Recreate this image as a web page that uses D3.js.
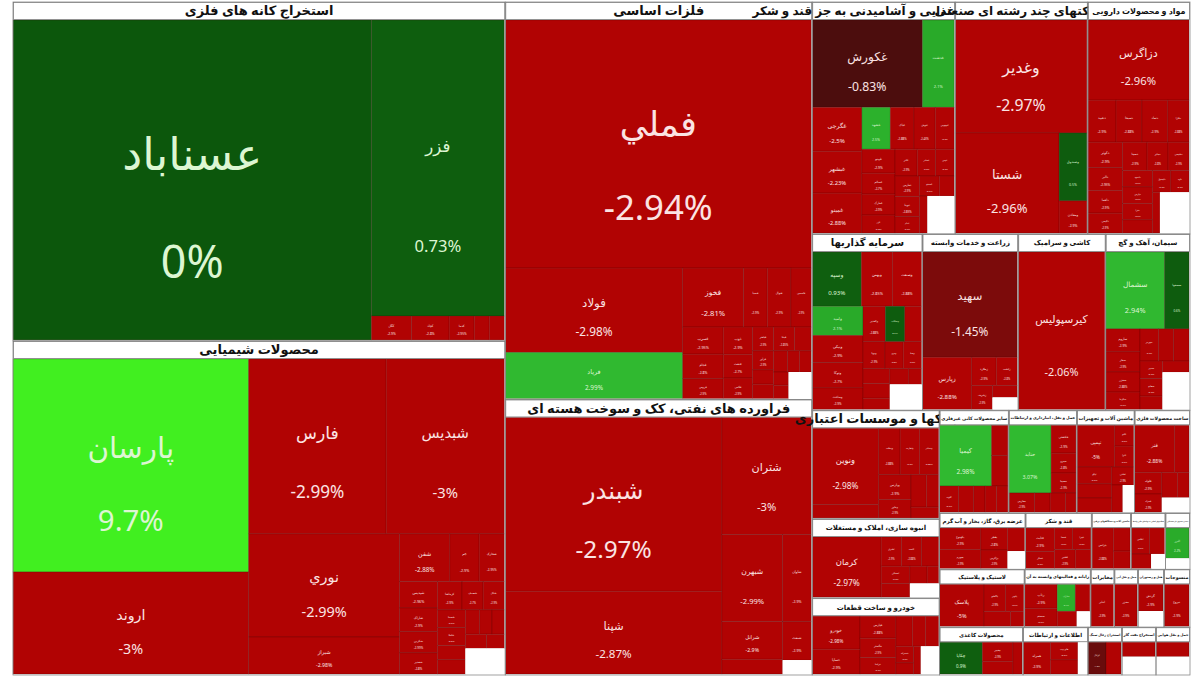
<!DOCTYPE html>
<html lang="fa">
<head>
<meta charset="UTF-8">
<script src="https://d3js.org/d3.v7.min.js"></script>
<style>
  body { margin: 0; background: #fff; }
  svg text { font-family: "Noto Sans", "DejaVu Sans", sans-serif; }
</style>
</head>
<body>
<div id="chart"></div>
<script>
// each stock: [ticker, % change, weight (market value)]
// a blank name means an empty corner left by the original map
var oreStocks = [["عسناباد", 0, 1149], ["فزر", 0.73, 394],
  ["کگل", -2.9, 9.6], ["کچاد", -2.8, 9], ["کدما", -2.95, 6], ["کنور", -2.5, 3.6], ["کروی", -2.7, 3.6]];

var chemStocks = [["پارسان", 9.7, 503], ["اروند", -3, 241], ["فارس", -2.99, 241], ["شبدیس", -3, 207],
  ["نوري", -2.99, 156], ["شیراز", -2.98, 56],
  ["شفن", -2.88, 24], ["جم", -2.9, 14], ["شخارک", -2.95, 12], ["شپدیس", -2.96, 10], ["شاراک", -2.9, 9],
  ["شکربن", -2.99, 8], ["شغدیر", -2.8, 8], ["کرماشا", -2.9, 7], ["شصدف", -2.7, 6], ["شگل", -2.9, 6],
  ["شسینا", -2.6, 5], ["شاملا", -2.8, 5], ["شپاکسا", -2.9, 4], ["شفارس", -2.85, 4], ["شلعاب", -2.7, 3.5],
  ["شکلر", -2.9, 3], ["شرنگی", -2.9, 3], ["شجم", -2.8, 3], ["شیران", -2.9, 2.5], ["", null, 10]];

var metalStocks = [["فملي", -2.94, 761], ["فولاد", -2.98, 150], ["فرياد", 2.99, 82],
  ["فخوز", -2.81, 36], ["فسپا", -2.9, 14], ["فنوال", -2.9, 14], ["فاسمین", -2.9, 12], ["فسرب", -2.95, 11],
  ["فجام", -2.8, 10], ["فروس", -2.9, 8], ["ذوب", -2.9, 8], ["فنفت", -2.7, 7], ["فلامی", -2.9, 6],
  ["فباهنر", -2.9, 5], ["فپنتا", -2.85, 5], ["فگستر", -2.9, 4], ["فرآور", -2.9, 4], ["فافزا", -2.9, 3],
  ["فخاس", -2.8, 3], ["فکاوه", -2.9, 3], ["فسازان", -2.9, 2.5], ["فغدیر", -2.9, 2.5], ["فاذر", -2.9, 2],
  ["فجر", -2.9, 2], ["", null, 6]];

var oilStocks = [["شبندر", -2.97, 378], ["شپنا", -2.87, 180], ["شتران", -3, 105], ["شبهرن", -2.99, 53],
  ["شرانل", -2.9, 23], ["شسپا", -2.95, 9], ["شاوان", -2.9, 25], ["شنفت", -2.9, 11], ["", null, 4]];

var foodStocks = [["غکورش", -0.83, 97], ["غدشت", 2.1, 28],
  ["غگرجی", -2.5, 22], ["غبشهر", -2.23, 21], ["غمینو", -2.88, 20], ["غشهد", 2.5, 12], ["غپاک", -2.88, 10],
  ["غنوش", -2.43, 9], ["غبهنوش", -2.9, 8], ["غپینو", -2.9, 8], ["غسالم", -2.7, 7], ["غمارگ", -2.9, 7],
  ["غزر", -2.8, 6], ["غاذر", -2.9, 6], ["غشاذر", -2.6, 5], ["غچین", -2.9, 5], ["غفارس", -2.9, 5],
  ["غویتا", -2.85, 5], ["غدام", -2.9, 4], ["غصینو", -2.9, 4], ["غالبر", -2.8, 3], ["غشان", -2.9, 3], ["", null, 10]];

var multiStocks = [["وغدير", -2.97, 150], ["شستا", -2.96, 105], ["وصندوق", 0.5, 19], ["ومعادن", -2.9, 9]];

var pharmaStocks = [["دزاگرس", -2.96, 82],
  ["دعبید", -2.9, 12], ["دسبحا", -2.88, 11], ["دتماد", -2.9, 11], ["دفارا", -2.88, 9], ["دکوثر", -2.9, 9],
  ["دالبر", -2.95, 8], ["دلقما", -2.9, 8], ["دکیمی", -2.9, 7], ["دسینا", -2.9, 7], ["دجابر", -2.8, 6],
  ["دشیمی", -2.9, 6], ["داسوه", -2.9, 5], ["دپارس", -2.9, 5], ["دفرا", -2.9, 5], ["دتولید", -2.7, 4],
  ["دکپسول", -2.9, 4], ["داوه", -2.9, 4], ["ددام", -2.9, 3], ["", null, 12]];

var investStocks = [["وسپه", 0.93, 27], ["وبهمن", -2.85, 17], ["وصنعت", -2.88, 16], ["وامید", 2.1, 15],
  ["ونیکی", -2.9, 14], ["وتوکا", -2.7, 13], ["وساخت", -2.9, 11], ["وکغدیر", -2.88, 8], ["وسکاب", 0.6, 7],
  ["وبوعلی", -2.9, 6], ["وپویا", -2.9, 6], ["ونیرو", -2.8, 5], ["وصنا", -2.9, 5], ["ولساپا", -2.9, 4],
  ["وسنا", -2.9, 4], ["واتی", -2.7, 3], ["وسبحان", -2.9, 3], ["وآتوس", -2.9, 2], ["", null, 8]];

var farmStocks = [["سهید", -1.45, 101], ["زپارس", -2.88, 26], ["زملارد", -2.9, 7], ["زکشت", -2.8, 6],
  ["زشریف", -2.9, 5], ["زماهان", -2.7, 3], ["", null, 3]];

var tileStocks = [["کیرسپولیس", -2.06, 138]];

var cementStocks = [["سشمال", 2.94, 46], ["سصفها", 0.6, 19],
  ["ساروم", -2.9, 8], ["سفار", -2.9, 7], ["سخزر", -2.88, 7], ["سکرما", -2.9, 6], ["سهرمز", -2.9, 6],
  ["سبهان", -2.8, 5], ["سغرب", -2.9, 5], ["سدور", -2.9, 4], ["سفانو", -2.9, 4], ["ساوه", -2.7, 3],
  ["سیلام", -2.9, 3], ["", null, 10]];

var bankStocks = [["ونوين", -2.98, 51], ["وپست", -2.9, 9],
  ["وبملت", -2.88, 10], ["وتجارت", -2.9, 9], ["وبصادر", -2.88, 9], ["وپارس", -2.9, 8], ["وخاور", -2.9, 6],
  ["وسینا", -2.9, 5], ["ودی", -2.8, 4], ["وکار", -2.9, 3]];

var estateStocks = [["کرمان", -2.97, 42], ["ثشرق", -2.9, 6], ["ثاخت", -2.88, 6], ["ثامان", -2.9, 5],
  ["ثمسکن", -2.9, 5], ["ثنوسا", -2.8, 4], ["ثباغ", -2.9, 3], ["ثفارس", -2.9, 2], ["", null, 4]];

var autoStocks = [["خودرو", -2.98, 16], ["خساپا", -2.9, 12], ["خپارس", -2.88, 8], ["خگستر", -2.9, 7],
  ["خزامیا", -2.9, 6], ["خاور", -2.9, 5], ["ختور", -2.8, 4], ["خکمک", -2.9, 4], ["خمحرکه", -2.9, 3],
  ["خریخت", -2.9, 2], ["خشرق", -2.9, 2], ["", null, 5]];

var mineralStocks = [["کیمیا", 2.98, 32], ["کساپا", -2.9, 5], ["کفپارس", -2.9, 5], ["کلوند", -2.9, 5],
  ["کاوه", -2.8, 4], ["کگاز", -2.9, 3], ["کسرا", -2.9, 3], ["کخاک", -2.9, 3]];
var transportStocks = [["حتاید", 3.07, 29], ["حکشتی", -2.9, 7], ["حپترو", -2.8, 5], ["حسینا", -2.9, 5],
  ["حفارس", -2.9, 5], ["حریل", -2.9, 3], ["حآسا", -2.7, 3], ["حسیر", -2.9, 2]];
var machineStocks = [["تپمپی", -5, 16], ["تکنو", -2.9, 4], ["تایرا", -2.9, 4], ["تپکو", -2.9, 6],
  ["تمحرکه", -2.9, 5], ["ماشین", -2.8, 5], ["تشتی", -2.9, 4], ["تبرک", -2.9, 3], ["", null, 3]];
var metalProdStocks = [["فنر", -2.88, 19], ["فجهان", -2.9, 7], ["فلوله", -2.9, 6], ["فمراد", -2.9, 5],
  ["فتوسا", -2.8, 4], ["فولای", -2.9, 3], ["", null, 4]];
var powerStocks = [["بکهنوج", -2.9, 9], ["بجهرم", -2.9, 8], ["بفجر", -2.8, 6], ["بزاگرس", -2.9, 5],
  ["بپیوند", -2.9, 4], ["", null, 3]];
var sugarStocks = [["قثابت", -2.9, 7], ["قشکر", -2.9, 5], ["قنیشا", -2.9, 4], ["قپیرا", -2.8, 4],
  ["قشیر", -2.9, 4], ["قهکمت", -2.9, 3]];
var electricStocks = [["بترانس", -2.88, 9], ["بالبر", -2.9, 4], ["بموتو", -2.9, 3]];
var financeStocks = [["اطلس", -2.9, 5], ["امین", -2.9, 4], ["آگاه", -2.8, 3], ["", null, 2]];
var insureStocks = [["البرز", 2.2, 7.5], ["", null, 2.5]];
var rubberStocks = [["پلاسک", -5, 19], ["پاکشو", -2.9, 6], ["پکویر", -2.9, 5], ["پدرخش", -2.9, 4], ["پسهند", -2.8, 2]];
var computerStocks = [["رتاپ", -2.9, 8], ["سیستم", -2.9, 6], ["مداران", 2.4, 5], ["رافزا", -2.9, 4],
  ["فناوا", -2.9, 3], ["", null, 2]];
var telecomStocks = [["اخابر", -2.9, 10]];
var shipStocks = [["حخزر", -2.9, 10]];
var hotelStocks = [["گردش", -2.9, 7], ["", null, 4]];
var textileStocks = [["نبروج", -2.9, 11]];
var paperStocks = [["چکاپا", 0.9, 14], ["چفیبر", -2.9, 6], ["چکارن", -2.9, 4], ["چدن", -2.8, 3]];
var infoStocks = [["همراه", -2.9, 9], ["هاي وب", -2.9, 5], ["آسیاتک", -2.9, 4], ["", null, 3]];
var coalStocks = [["کزغال", -1.2, 6], ["کطبس", -2.9, 5]];
var gasStocks = [["نفت", -2.9, 5], ["", null, 6]];
var airStocks = [["هما", -2.9, 5], ["", null, 6]];

// ---- layout helpers (direction of each split) ----
function leaf(d) { return {name: d[0], pct: d[1], v: d[2]}; }
function H() { return {dir: "h", children: [].slice.call(arguments)}; }
function V() { return {dir: "v", children: [].slice.call(arguments)}; }
function Ha(a) { return {dir: "h", children: a}; }
function SQ(a) { return {dir: "sq", children: a}; }
function sector(title, stocks, spec, hh, fs) {
  var n = spec(stocks.map(leaf));
  n.title = title; n.hh = hh || 18; n.fs = fs || 13;
  return n;
}
function small(title, stocks, spec) { return sector(title, stocks, spec, 15, 5.5); }

var rootData = H(
  V(
    sector("استخراج کانه های فلزی", oreStocks, s => H(s[0], V(s[1], Ha(s.slice(2))))),
    sector("محصولات شیمیایی", chemStocks, s => H(V(s[0], s[1]), V(H(s[2], s[3]), H(V(s[4], s[5]), SQ(s.slice(6))))))
  ),
  V(
    sector("فلزات اساسی", metalStocks, s => V(s[0], H(V(s[1], s[2]), SQ(s.slice(3))))),
    sector("فراورده های نفتی، کک و سوخت هسته ای", oilStocks, s => H(V(s[0], s[1]), V(s[2], H(V(s[3], s[4], s[5]), V(s[6], s[7], s[8])))))
  ),
  V(
    H(
      sector("محصولات غذایی و آشامیدنی به جز قند و شکر", foodStocks, s => V(H(s[0], s[1]), SQ(s.slice(2))), 18, 12),
      sector("شرکتهای چند رشته ای صنعتی", multiStocks, s => V(s[0], H(s[1], V(s[2], s[3]))), 18, 12),
      sector("مواد و محصولات دارویی", pharmaStocks, s => V(s[0], SQ(s.slice(1))), 18, 8)
    ),
    H(
      sector("سرمایه گذاریها", investStocks, s => SQ(s), 18, 10),
      sector("زراعت و خدمات وابسته", farmStocks, s => V(s[0], H(s[1], SQ(s.slice(2)))), 18, 7),
      sector("کاشی و سرامیک", tileStocks, s => V(s[0]), 18, 7),
      sector("سیمان، آهک و گچ", cementStocks, s => V(H(s[0], s[1]), SQ(s.slice(2))), 18, 7)
    ),
    H(
      V(
        sector("بانکها و موسسات اعتباری", bankStocks, s => H(V(s[0], s[1]), SQ(s.slice(2))), 18, 13),
        sector("انبوه سازی، املاک و مستغلات", estateStocks, s => H(s[0], SQ(s.slice(1))), 18, 7),
        sector("خودرو و ساخت قطعات", autoStocks, s => SQ(s), 18, 7)
      ),
      V(
        H(
          small("سایر محصولات کانی غیرفلزی", mineralStocks, s => V(H(s[0], V(s[1], s[2])), Ha(s.slice(3)))),
          small("حمل و نقل، انبارداری و ارتباطات", transportStocks, s => V(H(s[0], V(s[1], s[2], s[3])), Ha(s.slice(4)))),
          small("ماشین آلات و تجهیزات", machineStocks, s => V(H(s[0], V(s[1], s[2])), SQ(s.slice(3)))),
          small("ساخت محصولات فلزی", metalProdStocks, s => V(H(s[0], s[1]), SQ(s.slice(2))))
        ),
        H(
          small("عرضه برق، گاز، بخار و آب گرم", powerStocks, s => SQ(s)),
          small("قند و شکر", sugarStocks, s => SQ(s)),
          small("ماشین آلات و دستگاههای برقی", electricStocks, s => H(s[0], V(s[1], s[2]))),
          small("فعالیتهای کمکی به نهادهای مالی واسط", financeStocks, s => SQ(s)),
          small("بیمه و صندوق بازنشستگی", insureStocks, s => V(s[0], s[1]))
        ),
        H(
          small("لاستیک و پلاستیک", rubberStocks, s => H(s[0], SQ(s.slice(1)))),
          small("رایانه و فعالیتهای وابسته به آن", computerStocks, s => SQ(s)),
          small("مخابرات", telecomStocks, s => V(s[0])),
          small("حمل و نقل آبی", shipStocks, s => V(s[0])),
          small("هتل و رستوران", hotelStocks, s => V(s[0], s[1])),
          small("منسوجات", textileStocks, s => V(s[0]))
        ),
        H(
          small("محصولات کاغذی", paperStocks, s => H(s[0], SQ(s.slice(1)))),
          small("اطلاعات و ارتباطات", infoStocks, s => SQ(s)),
          small("استخراج زغال سنگ", coalStocks, s => H(s[0], s[1])),
          small("استخراج نفت گاز", gasStocks, s => V(s[0], s[1])),
          small("حمل و نقل هوایی", airStocks, s => V(s[0], s[1]))
        )
      )
    )
  )
);

var width = 1177, height = 673;

var svg = d3.select("#chart").append("svg")
    .attr("width", 1200)
    .attr("height", 678);
var g = svg.append("g").attr("transform", "translate(13,2)");

var root = d3.hierarchy(rootData).sum(d => d.children ? 0 : d.v);

// height taken by headers inside each node (not proportional to value)
root.eachAfter(function(n) {
  var f = n.data.title ? n.data.hh : 0;
  if (n.children) {
    if (n.data.dir === "v") f += d3.sum(n.children, c => c.fh);
    else if (n.data.dir === "h") f += d3.max(n.children, c => c.fh);
  }
  n.fh = f;
});

function tile(node, x0, y0, x1, y1) {
  var kids = node.children, dir = node.data.dir;
  var tot = d3.sum(kids, c => c.value);
  if (dir === "sq") {
    d3.treemapSquarify({children: kids, value: tot}, x0, y0, x1, y1);
  } else if (dir === "v") {
    var free = (y1 - y0) - d3.sum(kids, c => c.fh), y = y0;
    kids.forEach(function(c) {
      c.x0 = x0; c.x1 = x1; c.y0 = y;
      y += c.fh + free * c.value / tot; c.y1 = y;
    });
  } else {
    var w = kids.map(c => c.value / Math.max(1, (y1 - y0) - c.fh)), tw = d3.sum(w), x = x0;
    kids.forEach(function(c, i) {
      c.y0 = y0; c.y1 = y1; c.x0 = x;
      x += (x1 - x0) * w[i] / tw; c.x1 = x;
    });
  }
}

d3.treemap()
  .size([width, height])
  .tile(tile)
  .paddingTop(n => n.data.title ? n.data.hh : 0)
  .paddingRight(n => n.data.title ? 1 : 0)
  .paddingBottom(n => n.data.title ? 1 : 0)
  (root);

var color = d3.scaleLinear()
  .domain([-2, -1.45, -0.8, 0, 1, 2, 3, 9.7])
  .range(["#b10303", "#7c0b0b", "#4a0d0d", "#0c570c", "#0f600f", "#28a828", "#30b930", "#41ef20"])
  .clamp(true);

// cells
var cell = g.selectAll("g.cell")
  .data(root.leaves())
  .enter().append("g")
    .attr("class", "cell")
    .attr("transform", d => "translate(" + d.x0 + "," + d.y0 + ")");

cell.append("rect")
  .attr("width", d => Math.max(0, d.x1 - d.x0))
  .attr("height", d => Math.max(0, d.y1 - d.y0))
  .style("fill", d => d.data.name ? color(d.data.pct) : "#fff")
  .style("stroke", d => d.data.name ? "rgba(60,0,0,0.3)" : "none")
  .style("stroke-width", 0.7);

cell.filter(d => d.data.name).each(function(d) {
  var w = d.x1 - d.x0, h = d.y1 - d.y0;
  var fs = Math.min(0.14 * h, 0.125 * w);
  if (fs < 2.2) return;
  var tc = d.data.pct < 0 ? "#fbe3e3" : "#ddf6d2";
  var sel = d3.select(this);
  sel.append("text")
    .attr("x", w / 2).attr("y", h * 0.43)
    .attr("text-anchor", "middle").attr("dominant-baseline", "middle")
    .style("font-size", fs + "px").style("fill", tc)
    .text(d.data.name);
  sel.append("text")
    .attr("x", w / 2).attr("y", h * 0.77)
    .attr("text-anchor", "middle").attr("dominant-baseline", "middle")
    .style("font-size", fs + "px").style("fill", tc)
    .attr("direction", "ltr")
    .text(d.data.pct + "%");
});

// sector frames and headers, drawn one after the other
var sectors = root.descendants().filter(d => d.data.title);
sectors.forEach(function(s) {
  var sg = g.append("g");
  var sw = s.x1 - s.x0;
  sg.append("rect")
    .attr("x", s.x0).attr("y", s.y0)
    .attr("width", sw).attr("height", s.y1 - s.y0)
    .style("fill", "none").style("stroke", "#8a8a8a").style("stroke-width", 0.8);
  sg.append("rect")
    .attr("x", s.x0 + 0.5).attr("y", s.y0 + 0.5)
    .attr("width", sw - 1).attr("height", s.data.hh - 1)
    .style("fill", "#fff").style("stroke", "#7a7a7a").style("stroke-width", 0.8);
  var t = sg.append("text")
    .attr("x", (s.x0 + s.x1) / 2).attr("y", s.y0 + s.data.hh / 2 + 0.5)
    .attr("text-anchor", "middle").attr("dominant-baseline", "middle")
    .style("font-size", s.data.fs + "px").style("font-weight", "bold").style("fill", "#111")
    .text(s.data.title);
  // the narrow sectors squeeze their title into the header
  if (s.data.hh < 18) {
    var len = t.node().getComputedTextLength(), avail = sw - 3;
    if (len > avail) t.style("font-size", (s.data.fs * avail / len) + "px");
  }
});
</script>
</body>
</html>
